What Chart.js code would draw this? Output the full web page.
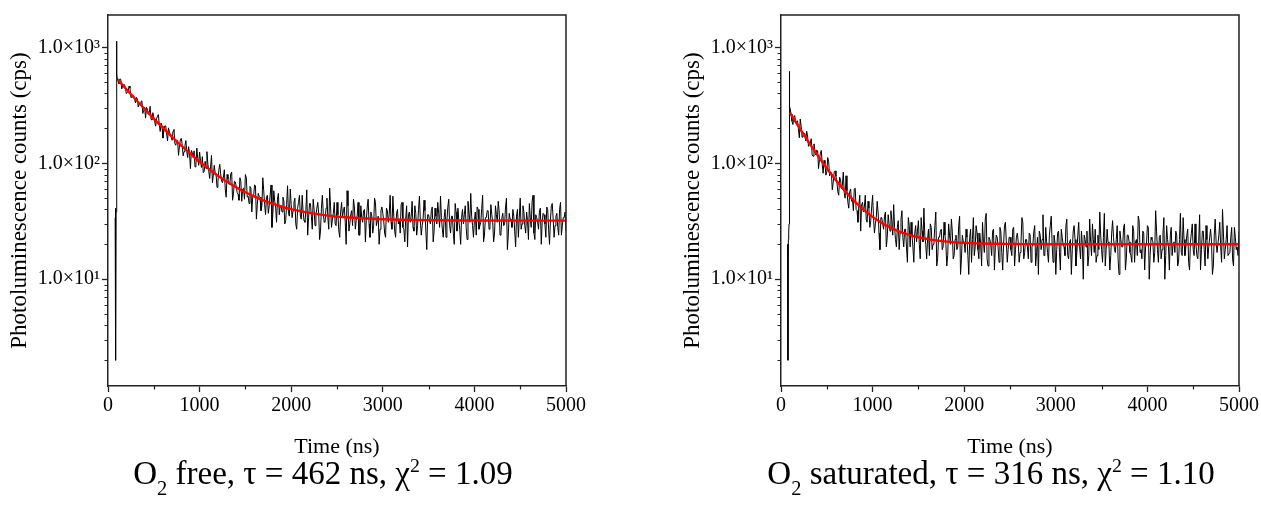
<!DOCTYPE html>
<html>
<head>
<meta charset="utf-8">
<script src="https://cdn.jsdelivr.net/npm/chart.js@4.4.1/dist/chart.umd.min.js"></script>
<style>
html,body{margin:0;padding:0;background:#fff;width:1261px;height:505px;overflow:hidden;position:relative;}
canvas{position:absolute;top:0;}
#cFree{left:0;}
#cSat{left:673px;}
.cap{position:absolute;top:457px;width:646px;text-align:center;font-family:'Liberation Serif',serif;font-size:33px;line-height:33px;color:#000;white-space:nowrap;}
.cap sub{font-size:0.62em;vertical-align:-0.55em;line-height:0;}
.cap sup{font-size:0.6em;vertical-align:0.6em;line-height:0;}
</style>
</head>
<body>
<canvas id="cFree" width="588" height="505"></canvas>
<canvas id="cSat" width="588" height="505"></canvas>
<div class="cap" style="left:0;">O<sub>2</sub> free, τ = 462 ns, χ<sup>2</sup> = 1.09</div>
<div class="cap" style="left:668px;">O<sub>2</sub> saturated, τ = 316 ns, χ<sup>2</sup> = 1.10</div>
<script>
// ---------- data ----------
const xTickValues = [0, 1000, 2000, 3000, 4000, 5000];
const xTickLabels = ['0', '1000', '2000', '3000', '4000', '5000'];
const yTickExponents = [1, 2, 3];
const yTickLabels = ['1.0×10¹', '1.0×10²', '1.0×10³'];

// instrument channels after the excitation spike (ns)
const channelStart = 100;
const channelWidth = 10;

// O2 free : excitation spike
const freeSpikeTime = [78, 82, 84, 88, 92, 95, 98];
const freeSpikeCounts = [34, 41, 2, 38, 45, 1130, 590];
// O2 free : measured decay (cps), one value per 10 ns channel from 100 ns to 5000 ns
const freeDecayCounts = [
 545,513,486,535,528,438,464,476,476,449,399,408,421,463,446,369,371,388,378,359,
 331,370,360,306,325,323,341,345,269,286,305,245,303,293,264,273,310,239,236,273,
 247,228,209,242,255,263,215,188,222,208,165,191,210,210,179,156,202,187,175,170,
 158,189,196,148,143,158,157,117,141,159,164,146,116,126,142,157,126,112,139,123,
 90,129,123,112,128,93,98,135,109,96,125,105,92,114,83,85,104,90,126,99,
 86,74,93,117,68,79,96,82,80,62,69,87,98,81,70,68,76,88,60,51,
 80,73,66,66,81,84,48,55,70,69,63,56,54,48,75,70,47,60,61,49,
 80,75,51,52,45,63,61,38,51,52,65,64,33,44,55,52,51,39,43,75,
 58,44,36,51,53,37,43,53,65,28,37,58,47,42,31,49,55,36,43,43,
 38,51,47,30,32,44,64,37,35,60,44,34,39,46,50,30,27,41,46,53,
 35,33,53,38,32,31,39,59,24,34,45,45,35,27,49,40,29,36,41,46,
 37,22,26,41,53,37,31,31,41,50,34,27,61,42,28,33,37,46,30,29,
 46,36,26,23,38,46,34,39,42,31,20,58,43,26,30,36,39,29,49,42,
 27,32,35,46,24,24,43,34,31,39,40,21,32,42,49,30,23,38,35,25,
 29,50,46,29,32,35,20,27,39,42,37,32,25,23,41,39,31,36,53,31,
 27,52,35,26,23,37,40,30,33,25,44,46,28,27,21,33,43,19,36,38,
 31,35,47,28,26,43,37,24,29,40,52,32,24,29,33,48,39,26,18,36,
 36,32,30,39,42,21,26,41,35,30,46,37,28,52,34,27,23,34,40,23,
 32,42,49,29,25,35,35,25,20,45,38,26,41,32,27,20,34,40,30,36,
 43,28,22,47,37,31,55,35,29,23,32,38,24,42,40,27,29,31,41,53,
 21,24,34,34,39,39,27,29,44,36,31,21,25,43,36,31,47,39,24,25,
 34,37,29,30,42,50,18,24,37,33,33,28,40,35,26,19,35,40,23,34,
 50,27,30,43,38,29,25,38,32,22,45,34,28,47,53,25,22,36,34,31,
 27,39,41,20,31,37,36,30,23,42,40,27,20,32,43,45,33,23,29,35,
 37,28,24,40,46,24,29,34,34,38,26
];
// O2 free : fitted curve (red)
const freeFitTime = [106,200,300,400,500,600,700,800,900,1000,1100,1200,1300,1400,1500,1600,1700,1800,1900,2000,2200,2400,2600,2800,3000,3500,4000,4500,5000];
const freeFitCounts = [527,435,357,294,243,202,169,142,121,103,89.5,78,69.3,62,56.2,51.5,47.7,44.6,42.2,40.2,37.3,35.4,34.2,33.5,32.9,32.3,32.1,32.0,32.0];

// O2 saturated : excitation spike
const satSpikeTime = [72, 76, 80, 84, 88, 91, 95];
const satSpikeCounts = [20, 2, 22, 25, 30, 620, 310];
// O2 saturated : measured decay (cps), one value per 10 ns channel from 100 ns to 5000 ns
const satDecayCounts = [
 296,265,231,216,249,258,225,230,232,200,166,241,209,168,173,181,181,156,189,172,
 140,146,148,163,118,115,147,127,118,130,128,90,108,122,129,98,82,106,99,79,
 84,112,104,78,81,83,59,68,83,86,77,69,57,53,76,72,60,65,84,56,
 50,78,58,46,41,57,60,47,49,39,60,61,40,39,31,44,53,26,44,46,
 38,42,53,33,31,47,41,28,32,42,53,34,25,30,34,47,38,25,18,34,
 34,30,27,35,38,19,23,36,30,26,39,32,24,44,28,22,19,28,32,18,
 25,33,39,23,19,27,27,19,14,34,29,19,31,24,19,14,25,29,21,26,
 32,20,15,34,26,21,41,24,20,15,22,27,16,30,28,18,20,21,29,38,
 13,15,23,23,26,27,18,19,31,24,20,13,16,30,24,20,33,26,15,16,
 22,24,18,19,29,35,11,15,24,21,21,17,27,23,16,11,23,27,14,22,
 34,16,19,29,25,18,15,25,20,13,31,21,17,33,37,15,13,23,22,20,
 16,26,27,12,19,24,23,19,14,28,26,17,12,20,29,31,21,14,18,23,
 23,18,16,27,28,13,18,23,25,21,14,17,21,34,31,15,17,22,22,19,
 15,25,24,14,19,20,26,29,13,17,23,11,26,24,18,22,36,16,16,28,
 21,17,14,24,29,35,20,14,24,21,11,18,25,26,17,12,27,23,20,19,
 16,29,33,16,15,21,22,11,18,26,29,22,13,17,24,31,19,15,26,20,
 10,24,22,19,26,13,16,33,21,16,30,22,17,27,14,16,24,18,38,24,
 18,14,23,37,13,18,27,21,20,12,16,25,32,23,18,17,22,29,15,11,
 26,22,19,19,28,30,12,15,24,24,21,17,16,14,29,26,14,21,22,16,
 35,32,17,18,15,26,25,12,19,20,29,28,10,16,23,22,21,14,17,39,
 26,18,14,23,24,15,18,25,34,10,16,29,22,19,12,24,28,16,20,21,
 17,26,24,13,14,22,37,17,16,34,22,16,19,24,27,14,12,21,25,30,
 18,16,30,20,16,15,21,36,12,18,26,26,18,13,29,22,15,19,23,27,
 21,11,13,24,33,21,17,17,24,31,19,14,40,25,15,18,22,29,16,16,
 17,23,28,15,13,28,23,18,19,16,26
];
// O2 saturated : fitted curve (red)
const satFitTime = [98,200,300,400,500,600,700,800,900,1000,1100,1200,1300,1400,1500,1600,1700,1800,1900,2000,2200,2400,2600,3000,3500,4000,4500,5000];
const satFitCounts = [272,203,153,117,90.7,71.5,57.5,47.3,39.9,34.5,30.6,27.7,25.6,24.1,23.0,22.2,21.6,21.2,20.8,20.6,20.3,20.2,20.1,20.0,20.0,20.0,20.0,20.0];

// ---------- drawing ----------
Chart.defaults.font.family = "'Liberation Serif', 'Times New Roman', serif";
Chart.defaults.color = '#000';

function isPow10(v) {
  const e = Math.round(Math.log10(v));
  return Math.abs(v - Math.pow(10, e)) < 1e-6 * v;
}
function isNiceLog(v) {
  if (v < 2) return false;
  const e = Math.floor(Math.log10(v) + 1e-9);
  const m = v / Math.pow(10, e);
  return Math.abs(m - Math.round(m)) < 1e-6;
}
function yLabel(v) {
  if (!isPow10(v)) return '';
  const idx = yTickExponents.indexOf(Math.round(Math.log10(v)));
  return idx >= 0 ? yTickLabels[idx] : '';
}
function xLabel(v) {
  const idx = xTickValues.indexOf(v);
  return idx >= 0 ? xTickLabels[idx] : '';
}

const framePlugin = {
  id: 'frame',
  afterDraw(chart) {
    const {ctx, chartArea: a, scales: {x, y}} = chart;
    ctx.save();
    ctx.strokeStyle = '#222';
    ctx.lineWidth = 1.5;
    ctx.beginPath();
    ctx.moveTo(a.left, a.top);
    ctx.lineTo(a.right, a.top);
    ctx.lineTo(a.right, a.bottom);
    ctx.stroke();
    ctx.lineWidth = 1.2;
    ctx.beginPath();
    y.ticks.forEach(t => {
      if (!isPow10(t.value)) {
        const py = Math.round(y.getPixelForValue(t.value)) + 0.5;
        ctx.moveTo(a.left - 3.5, py); ctx.lineTo(a.left, py);
      }
    });
    x.ticks.forEach(t => {
      if (xTickValues.indexOf(t.value) < 0) {
        const px = Math.round(x.getPixelForValue(t.value)) + 0.5;
        ctx.moveTo(px, a.bottom); ctx.lineTo(px, a.bottom + 3.5);
      }
    });
    ctx.stroke();
    ctx.restore();
  }
};

function makeChart(id, fitT, fitC, spT, spC, decay, padRight) {
  const trace = spT.map((t, i) => ({x: t, y: spC[i]}));
  decay.forEach((c, i) => trace.push({x: channelStart + i * channelWidth, y: c}));
  const fit = fitT.map((t, i) => ({x: t, y: fitC[i]}));
  return new Chart(document.getElementById(id), {
    type: 'line',
    data: {
      datasets: [
        {data: fit, borderColor: '#ff0000', borderWidth: 2.4, pointRadius: 0, cubicInterpolationMode: 'monotone', fill: false},
        {data: trace, borderColor: '#000000', borderWidth: 1.0, pointRadius: 0, tension: 0, fill: false}
      ]
    },
    options: {
      responsive: false,
      animation: false,
      devicePixelRatio: 1,
      events: [],
      layout: {padding: {left: 0, top: 15, right: padRight, bottom: 45}},
      plugins: {legend: {display: false}, tooltip: {enabled: false}, title: {display: false}},
      scales: {
        x: {
          type: 'linear', min: 0, max: 5000,
          afterFit: s => { s.height = 74; },
          ticks: {stepSize: 500, autoSkip: false, maxRotation: 0, padding: 2, color: '#000', font: {size: 20}, callback: v => xLabel(v)},
          grid: {drawOnChartArea: false, drawTicks: true, tickLength: 6, tickWidth: 1.3,
                 tickColor: c => (c.tick && xTickValues.indexOf(c.tick.value) >= 0) ? '#222' : 'rgba(0,0,0,0)'},
          border: {display: true, color: '#222', width: 1.5},
          title: {display: true, text: 'Time (ns)', color: '#000', font: {size: 22}, padding: {top: 0, bottom: 0}}
        },
        y: {
          type: 'logarithmic', min: 1.2, max: 1900,
          afterFit: s => { s.width = 108; },
          afterBuildTicks: s => { s.ticks = s.ticks.filter(t => isNiceLog(t.value)); },
          ticks: {autoSkip: false, padding: 2, color: '#000', font: {size: 20}, callback: v => yLabel(v)},
          grid: {drawOnChartArea: false, drawTicks: true, tickLength: 6, tickWidth: 1.3,
                 tickColor: c => (c.tick && isPow10(c.tick.value)) ? '#222' : 'rgba(0,0,0,0)'},
          border: {display: true, color: '#222', width: 1.5},
          title: {display: true, text: 'Photoluminescence counts (cps)', color: '#000', font: {size: 23}, padding: {top: 6, bottom: 0}}
        }
      }
    },
    plugins: [framePlugin]
  });
}

makeChart('cFree', freeFitTime, freeFitCounts, freeSpikeTime, freeSpikeCounts, freeDecayCounts, 21);
makeChart('cSat', satFitTime, satFitCounts, satSpikeTime, satSpikeCounts, satDecayCounts, 22);
</script>
</body>
</html>
